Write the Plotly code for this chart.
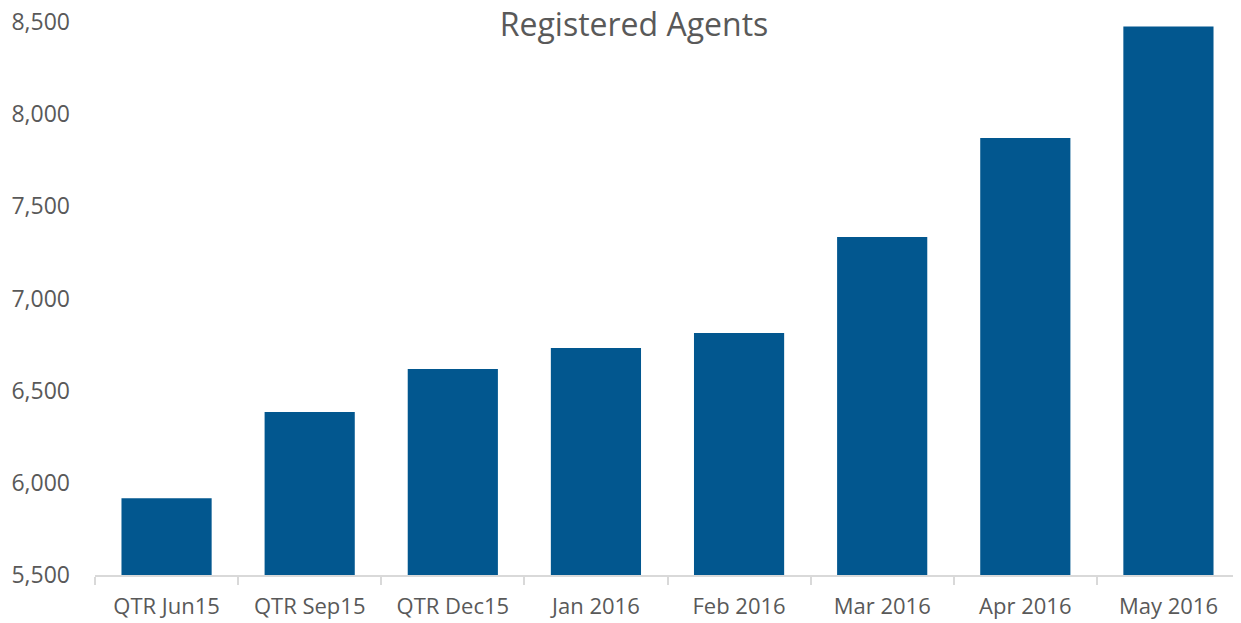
import plotly.graph_objects as go

categories = ["QTR Jun15", "QTR Sep15", "QTR Dec15", "Jan 2016", "Feb 2016", "Mar 2016", "Apr 2016", "May 2016"]
agents = [5916, 6384, 6618, 6732, 6813, 7334, 7871, 8476]
y_ticks = [5500, 6000, 6500, 7000, 7500, 8000, 8500]

W, H = 1233, 615

fig = go.Figure(go.Bar(x=categories, y=agents, marker=dict(color="#02578F", line=dict(width=0))))

fig.update_layout(
    width=W, height=H,
    margin=dict(l=87, r=1, t=14, b=48, autoexpand=False),
    paper_bgcolor="white", plot_bgcolor="white",
    bargap=0.37,
    showlegend=False,
    font=dict(family="Open Sans", color="#595959"),
    title=dict(text="Registered Agents", x=626/W, xref="container", xanchor="center",
               y=1 - 17/H, yref="container", yanchor="middle", automargin=False,
               font=dict(size=32, color="#595959", family="Open Sans")),
)
fig.update_xaxes(
    range=[-0.5, 7.5], showline=True, linecolor="#D9D9D9", linewidth=1.5,
    ticks="outside", tickson="boundaries", ticklen=8, tickcolor="#D9D9D9", tickwidth=1.5,
    tickfont=dict(size=22, color="#595959"), showgrid=False, automargin=False,
    ticklabelstandoff=11, ticklabeloverflow="allow",
)
fig.update_yaxes(
    range=[5500, 8500], tickvals=y_ticks, tickformat=",d", showgrid=False, zeroline=False,
    showline=False, ticks="", tickfont=dict(size=23, color="#595959"), ticklabelstandoff=24,
    automargin=False, ticklabeloverflow="allow",
)

fig.write_html("out.html")
